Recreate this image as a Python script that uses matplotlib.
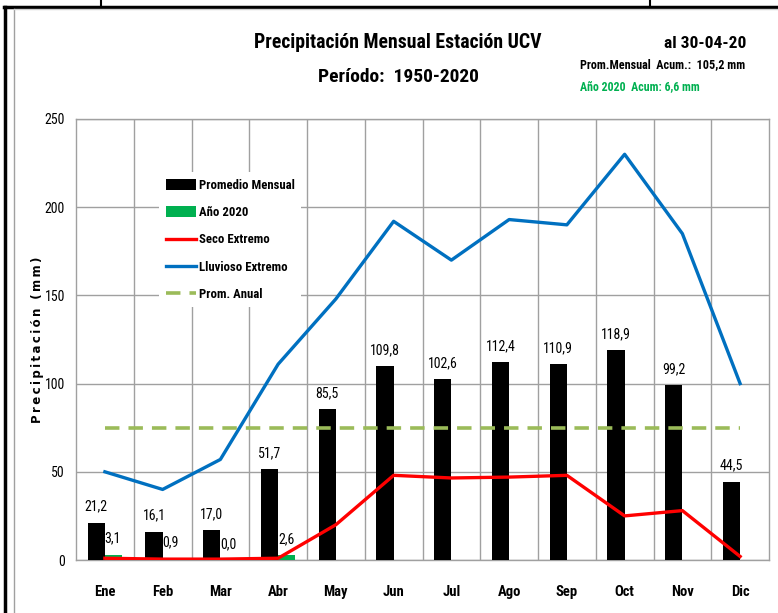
import numpy as np
import matplotlib.pyplot as plt
from matplotlib.lines import Line2D
from matplotlib import font_manager

meses = ['Ene', 'Feb', 'Mar', 'Abr', 'May', 'Jun', 'Jul', 'Ago', 'Sep', 'Oct', 'Nov', 'Dic']
promedio = [21.2, 16.1, 17.0, 51.7, 85.5, 109.8, 102.6, 112.4, 110.9, 118.9, 99.2, 44.5]
anio_2020 = [3.1, 0.9, 0.0, 2.6]
seco = [1.0, 0.5, 0.5, 1.0, 20, 48, 46.5, 47, 48, 25, 28, 2]
lluvioso = [50, 40, 57, 111, 148, 192, 170, 193, 190, 230, 185, 100]
prom_anual = 75

nombres = {f.name for f in font_manager.fontManager.ttflist}
narrow = [n for n in ['Roboto Condensed', 'Liberation Sans Narrow', 'DejaVu Sans Condensed',
                      'Open Sans Condensed', 'Roboto'] if n in nombres][:1] + ['DejaVu Sans']

fig = plt.figure(figsize=(7.78, 6.13), dpi=100)
ax = fig.add_axes([76 / 778, 1 - 560 / 613, 693 / 778, 441 / 613])

x = np.arange(len(meses))
w = 0.3
b1 = ax.bar(x - 0.15, promedio, w, color='black', label='Promedio Mensual', zorder=3)
x20 = x[:len(anio_2020)]
b2 = ax.bar(x20 + 0.15, anio_2020, w, color='#00B050', label='Año 2020', zorder=3)
l1, = ax.plot(x, seco, color='#FF0000', lw=2.4, label='Seco Extremo', zorder=4)
l2, = ax.plot(x, lluvioso, color='#0070C0', lw=2.4, label='Lluvioso Extremo', zorder=4)
l3, = ax.plot(x, [prom_anual] * len(x), color='#9BBB59', lw=2.6, ls=(0, (4, 2.5)),
              label='Prom. Anual', zorder=4)

# etiquetas de valores
for i, v in enumerate(promedio):
    ax.text(i - 0.15, v + 5, f'{v:.1f}'.replace('.', ','), ha='center', va='bottom',
            fontsize=10, family=narrow, zorder=5)
for i, v in enumerate(anio_2020):
    ax.text(i + 0.14, v + 5, f'{v:.1f}'.replace('.', ','), ha='center', va='bottom',
            fontsize=10, family=narrow, zorder=5)

ax.set_xlim(-0.5, 11.5)
ax.set_ylim(0, 250)
ax.set_yticks(range(0, 251, 50))
ax.set_xticks(x)
ax.set_xticklabels(meses, fontsize=10.5, fontweight='bold', family=narrow)
ax.set_xticks(np.arange(0.5, 11, 1), minor=True)
ax.tick_params(axis='x', which='both', length=0, pad=18)
ax.tick_params(axis='y', length=0, pad=8, labelsize=10)
for lab in ax.get_yticklabels():
    lab.set_family(narrow)
ax.grid(axis='y', color='#A0A0A0', lw=1)
ax.grid(axis='x', which='minor', color='#A0A0A0', lw=1)
ax.set_axisbelow(True)
for s in ax.spines.values():
    s.set_color('#A0A0A0')
    s.set_linewidth(1)

ax.set_ylabel('\u2009'.join('Precipitación (mm)'), fontsize=8.5, fontweight='bold')
ax.yaxis.set_label_coords(-32 / 693, 0.5)

leg = ax.legend([b1, b2, l1, l2, l3],
                ['Promedio Mensual', 'Año 2020', 'Seco Extremo', 'Lluvioso Extremo', 'Prom. Anual'],
                loc='upper left', bbox_to_anchor=(77 / 693, 1 - 47 / 441), frameon=True,
                fancybox=False, edgecolor='none', framealpha=1, handlelength=2.4,
                handleheight=0.9, handletextpad=0.2, labelspacing=1.12, borderpad=0.5,
                prop={'family': narrow, 'weight': 'bold', 'size': 9.2})
leg.set_zorder(6)

# títulos
fig.text(398 / 778, 1 - 42 / 613, 'Precipitación Mensual Estación UCV', ha='center', va='center',
         fontsize=14.2, fontweight='bold', family=narrow)
fig.text(398 / 778, 1 - 77 / 613, 'Período:  1950-2020', ha='center', va='center',
         fontsize=14, fontweight='bold', family=narrow)
fig.text(746 / 778, 1 - 43 / 613, 'al 30-04-20', ha='right', va='center',
         fontsize=12.5, fontweight='bold', family=narrow)
fig.text(580 / 778, 1 - 65 / 613, 'Prom.Mensual  Acum.:  105,2 mm', ha='left', va='center',
         fontsize=8.7, fontweight='bold', family=narrow)
fig.text(580 / 778, 1 - 87 / 613, 'Año 2020  Acum: 6,6 mm', ha='left', va='center',
         fontsize=8.6, fontweight='bold', color='#00B050', family=narrow)

# marcos
fig.add_artist(Line2D([5 / 778, 5 / 778], [0, 1 - 7 / 613], color='black', lw=2.5))
fig.add_artist(Line2D([4 / 778, 1], [1 - 7 / 613, 1 - 7 / 613], color='black', lw=2.5))
fig.add_artist(Line2D([101 / 778, 101 / 778], [1 - 7 / 613, 1], color='black', lw=1.5))
fig.add_artist(Line2D([650 / 778, 650 / 778], [1 - 7 / 613, 1], color='black', lw=1.5))
fig.add_artist(Line2D([14 / 778, 14 / 778], [0, 1 - 9 / 613], color='#A0A0A0', lw=1))
fig.add_artist(Line2D([14 / 778, 1], [1 - 9 / 613, 1 - 9 / 613], color='#D0D0D0', lw=1))

fig.savefig('out.png', dpi=100)
